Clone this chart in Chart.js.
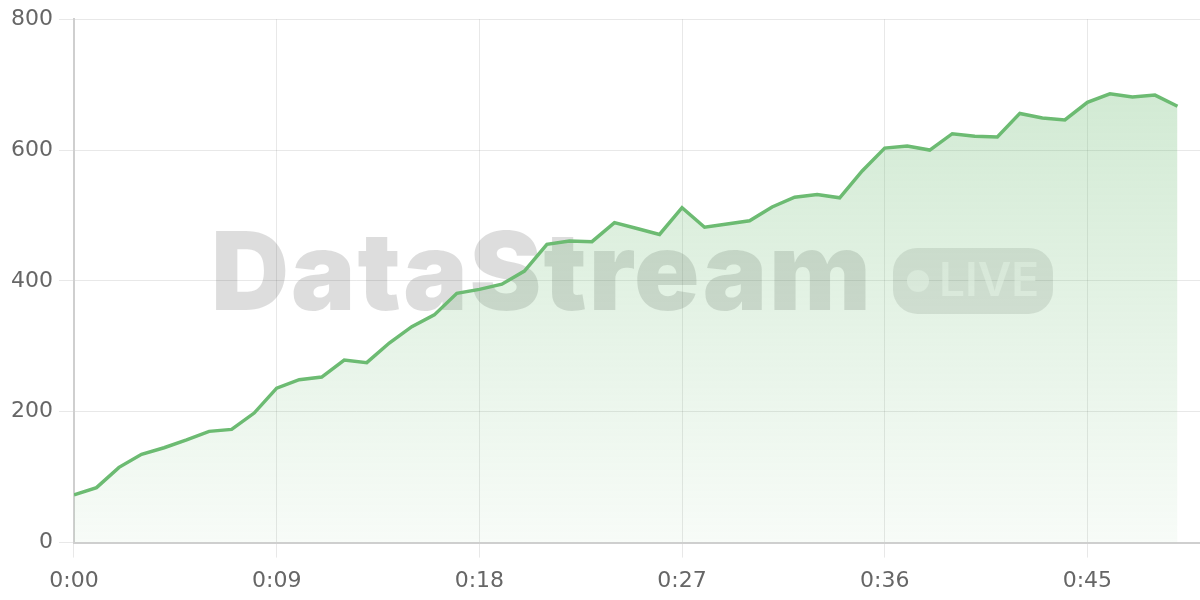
<!DOCTYPE html>
<html>
<head>
<meta charset="utf-8">
<script src="https://cdn.jsdelivr.net/npm/chart.js@4.4.1/dist/chart.umd.min.js"></script>
<style>
  html, body { margin: 0; padding: 0; background: #fff; }
  #wrap { width: 1200px; height: 600px; position: relative; }
</style>
</head>
<body>
<div id="wrap"><canvas id="liveChart"></canvas></div>
<script>
// seconds elapsed and the value read at each second
const seconds = [0, 1, 2, 3, 4, 5, 6, 7, 8, 9, 10, 11, 12, 13, 14, 15, 16, 17, 18, 19,
                 20, 21, 22, 23, 24, 25, 26, 27, 28, 29, 30, 31, 32, 33, 34, 35, 36, 37, 38, 39,
                 40, 41, 42, 43, 44, 45, 46, 47, 48, 49];
const values = [73, 84, 115, 135, 145, 157, 170, 173, 198, 236,
                249, 253, 279, 275, 305, 330, 348, 381, 387, 395,
                415, 456, 461, 460, 489, 480, 471, 512, 482, 487,
                492, 513, 528, 532, 527, 568, 603, 606, 600, 625,
                621, 620, 656, 649, 646, 673, 686, 681, 684, 667];
const xTicks = [0, 9, 18, 27, 36, 45];
const yTicks = [0, 200, 400, 600, 800];

const lineColor = 'rgb(108, 187, 114)';

function fmtTime(s) {
    const m = Math.floor(s / 60);
    const r = s % 60;
    return m + ':' + String(r).padStart(2, '0');
}

// big faded logo behind the line
const watermark = {
    id: 'watermark',
    beforeDatasetsDraw(chart) {
        const { ctx, chartArea } = chart;
        const cx = (chartArea.left + chartArea.right) / 2 - 5;
        const cy = (chartArea.top + chartArea.bottom) / 2;
        ctx.save();
        ctx.font = '900 108px Inter';
        ctx.letterSpacing = '2px';
        const textW = ctx.measureText('DataStream').width - 2;
        const pillW = 160, pillH = 66, gap = 22;
        const x0 = cx - (textW + gap + pillW) / 2;

        ctx.fillStyle = 'rgba(0, 0, 0, 0.135)';
        ctx.textBaseline = 'alphabetic';
        ctx.fillText('DataStream', x0, cy + 29);

        // LIVE badge
        ctx.letterSpacing = '0px';
        const px = x0 + textW + gap, py = cy - pillH / 2;
        ctx.fillStyle = 'rgba(0, 0, 0, 0.1)';
        ctx.beginPath();
        ctx.roundRect(px, py, pillW, pillH, 24);
        ctx.fill();

        ctx.fillStyle = 'rgba(255, 255, 255, 0.55)';
        ctx.beginPath();
        ctx.arc(px + 25, cy, 11, 0, Math.PI * 2);
        ctx.fill();
        ctx.font = '600 46px Inter';
        ctx.textBaseline = 'middle';
        ctx.fillText('LIVE', px + 46, cy + 1);
        ctx.restore();
    }
};

const ctx = document.getElementById('liveChart').getContext('2d');

new Chart(ctx, {
    type: 'line',
    data: {
        datasets: [{
            label: 'Live',
            data: seconds.map((s, i) => ({ x: s, y: values[i] })),
            borderColor: lineColor,
            borderWidth: 3.5,
            pointRadius: 0,
            tension: 0,
            fill: 'origin',
            backgroundColor: (c) => {
                const area = c.chart.chartArea;
                if (!area) return 'rgba(108,187,114,0.15)';
                const g = c.chart.ctx.createLinearGradient(0, area.top, 0, area.bottom);
                g.addColorStop(0, 'rgba(108, 187, 114, 0.35)');
                g.addColorStop(1, 'rgba(108, 187, 114, 0.05)');
                return g;
            }
        }]
    },
    options: {
        responsive: true,
        maintainAspectRatio: false,
        animation: false,
        layout: { padding: { top: 12, left: 5, right: 0, bottom: -4 } },
        plugins: {
            legend: { display: false },
            tooltip: { enabled: false }
        },
        scales: {
            x: {
                type: 'linear',
                min: 0,
                max: 50,
                afterBuildTicks: (axis) => { axis.ticks = xTicks.map(v => ({ value: v })); },
                ticks: {
                    callback: (v) => fmtTime(v),
                    font: { family: 'DejaVu Sans', size: 22 },
                    color: '#666',
                    padding: 10,
                    maxRotation: 0
                },
                grid: { color: 'rgba(0,0,0,0.09)', tickLength: 15 },
                border: { color: '#cfcfcf', width: 2 }
            },
            y: {
                min: 0,
                max: 800,
                afterBuildTicks: (axis) => { axis.ticks = yTicks.map(v => ({ value: v })); },
                ticks: {
                    font: { family: 'DejaVu Sans', size: 22 },
                    color: '#666',
                    padding: 6
                },
                grid: { color: 'rgba(0,0,0,0.09)', tickLength: 15 },
                border: { color: '#cfcfcf', width: 2 }
            }
        }
    },
    plugins: [watermark]
});
</script>
</body>
</html>
